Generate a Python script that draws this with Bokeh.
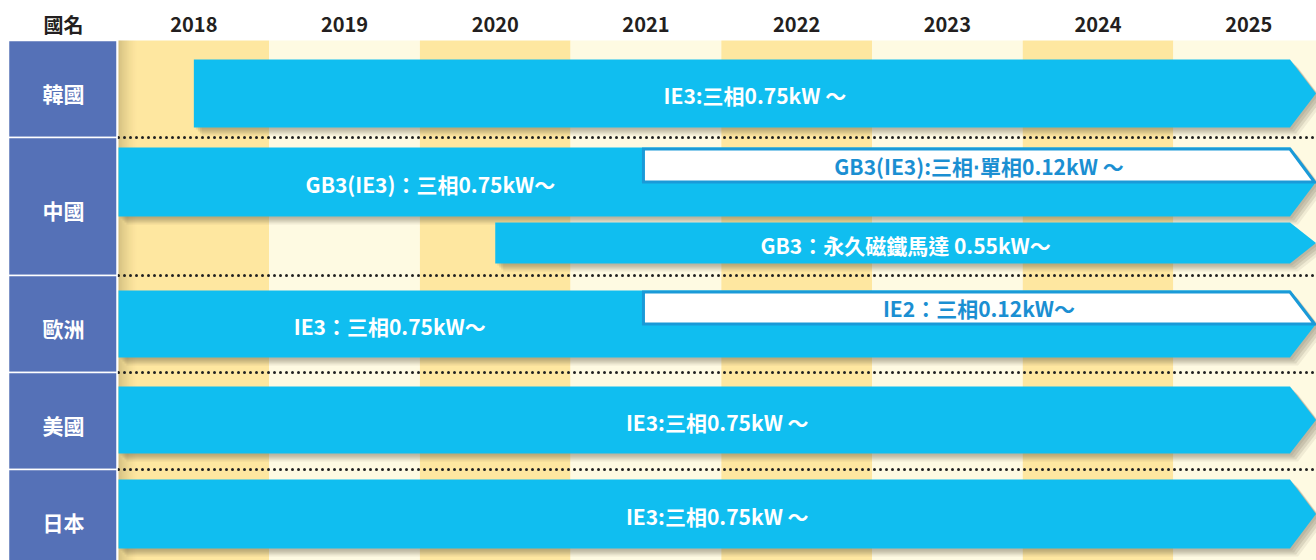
from bokeh.plotting import figure
from bokeh.models import Range1d
from bokeh.core.properties import value
from bokeh.embed import file_html
from bokeh.resources import INLINE

# ---------------- data ----------------
years = [2018, 2019, 2020, 2021, 2022, 2023, 2024, 2025]
year_labels = [str(y) for y in years]
header_label = "國名"
countries = ["韓國", "中國", "歐洲", "美國", "日本"]

# main (blue) arrows: country, start (year coordinate), label
bar_country = ["韓國", "中國", "中國", "歐洲", "美國", "日本"]
bar_start = [2018.5, 2018.0, 2020.5, 2018.0, 2018.0, 2018.0]
bar_label = ["IE3:三相0.75kW ～", "GB3(IE3)：三相0.75kW～", "GB3：永久磁鐵馬達 0.55kW～",
             "IE3：三相0.75kW～", "IE3:三相0.75kW ～", "IE3:三相0.75kW ～"]

# white inset arrows (upper half of a blue arrow)
inset_country = ["中國", "歐洲"]
inset_start = [2021.5, 2021.5]
inset_label = ["GB3(IE3):三相⋅單相0.12kW ～", "IE2：三相0.12kW～"]

# ---------------- layout / style ----------------
FONT = value("Noto Sans CJK TC")
COL = 150.7                      # px per year
W, H = 1316, 560
LEFT_PX = 118                    # px from figure left edge to start of 2018
x0 = years[0] - LEFT_PX / COL
x1 = x0 + W / COL
def px(n):
    return n / COL

BLUE = "#10bef0"
BLUE_DARK = "#1a9ad8"
COUNTRY_BG = "#5571b7"
YEL_DARK = "#fee7a0"
YEL_LIGHT = "#fefae2"
TXT_DARK = "#231f20"

# row geometry (px, top-down)
row_top = [40, 137, 275, 372, 469]
row_bot = [137, 275, 372, 469, 566]
bar_top = [59, 147, 222, 290, 386, 479]
bar_bot = [127, 216, 263, 357, 453, 548]
label_shift = [0, 0.32, 0, 0.05, 0, 0]  # shift of label centre (years) for bars with insets

tip = x1 - px(0.5)
shoulder = tip - px(26)

p = figure(width=W, height=H, x_range=Range1d(x0, x1), y_range=Range1d(H, 0),
           x_axis_type=None, y_axis_type=None, toolbar_location=None,
           output_backend="svg", min_border=0, outline_line_color=None,
           background_fill_color="white", border_fill_color="white")
p.grid.visible = False

# year columns
p.quad(left=years, right=[y + 1 for y in years], top=[40] * len(years), bottom=[566] * len(years),
       fill_color=[YEL_DARK if i % 2 == 0 else YEL_LIGHT for i in range(len(years))],
       line_color=None)

# shadow of the country column on the timeline
n_s = 9
p.quad(left=[years[0] + px(2 * i) for i in range(n_s)],
       right=[years[0] + px(2 * i + 2) for i in range(n_s)],
       top=[40] * n_s, bottom=[566] * n_s,
       fill_color="#7a6a3a", fill_alpha=[0.30 * (1 - i / n_s) ** 1.5 for i in range(n_s)],
       line_color=None)

# dotted separators
sep_y = row_top[1:]
p.multi_line(xs=[[years[0], x1] for _ in sep_y], ys=[[y, y] for y in sep_y],
             line_color="#222222", line_width=3, line_dash="0 6", line_cap="round")

def arrow(start, top, bot):
    mid = (top + bot) / 2
    return [start, shoulder, tip, shoulder, start], [top, top, mid, bot, bot]

# shadows
for (dx, dy, a) in [(2, 2, 0.10), (4, 4, 0.12), (6, 6, 0.12), (8, 8, 0.08)]:
    sx, sy = [], []
    for s, t, b in zip(bar_start, bar_top, bar_bot):
        xs, ys = arrow(s, t, b)
        sx.append([x + px(dx) for x in xs])
        sy.append([y + dy for y in ys])
    p.patches(sx, sy, fill_color="#4a4530", fill_alpha=a, line_color=None)

# blue arrows
ax, ay = [], []
for s, t, b in zip(bar_start, bar_top, bar_bot):
    xs, ys = arrow(s, t, b)
    ax.append(xs)
    ay.append(ys)
p.patches(ax, ay, fill_color=BLUE, line_color=None)

# white insets
ix, iy, itx, ity = [], [], [], []
for c, s in zip(inset_country, inset_start):
    i = bar_country.index(c)
    t, b = bar_top[i], bar_bot[i]
    mid = (t + b) / 2
    ix.append([s - px(2.5), shoulder, tip - px(1.5), s - px(2.5)])
    iy.append([t + 1.5, t + 1.5, mid, mid])
    itx.append((s + tip) / 2 - px(2))
    ity.append((t + mid) / 2 + 1)
p.patches(ix, iy, fill_color="white", line_color=BLUE_DARK, line_width=3, line_join="miter")

# country column
p.quad(left=[x0 + px(8)] * len(countries), right=[years[0] - px(1.5)] * len(countries),
       top=row_top, bottom=row_bot, fill_color=COUNTRY_BG, line_color="white", line_width=1.5)

# texts
cx = (x0 + px(8) + years[0]) / 2
p.text(x=[y + 0.5 for y in years], y=[24] * len(years), text=year_labels,
       text_font=FONT, text_font_style="bold", text_font_size="20px",
       text_color=TXT_DARK, text_align="center", text_baseline="middle")
p.text(x=[cx], y=[24], text=[header_label],
       text_font=FONT, text_font_style="bold", text_font_size="20px",
       text_color=TXT_DARK, text_align="center", text_baseline="middle")
p.text(x=[cx] * len(countries),
       y=[(t + b) / 2 + 3.5 for t, b in zip(row_top, row_bot)],
       text=countries, text_font=FONT, text_font_style="bold", text_font_size="21px",
       text_color="white", text_align="center", text_baseline="middle")

lx, ly = [], []
for i, (c, s) in enumerate(zip(bar_country, bar_start)):
    t, b = bar_top[i], bar_bot[i]
    if c in inset_country and i == bar_country.index(c):
        st = inset_start[inset_country.index(c)]
        lx.append((s + st) / 2 + label_shift[i])
    else:
        lx.append((s + tip) / 2)
    ly.append((t + b) / 2 + 1.5)
p.text(x=lx, y=ly, text=bar_label, text_font=FONT, text_font_style="bold",
       text_font_size="21px", text_color="white", text_align="center", text_baseline="middle")
p.text(x=itx, y=ity, text=inset_label, text_font=FONT, text_font_style="bold",
       text_font_size="21px", text_color="#1b8fd2", text_align="center", text_baseline="middle")

open("out.html", "w").write(file_html(p, INLINE))
